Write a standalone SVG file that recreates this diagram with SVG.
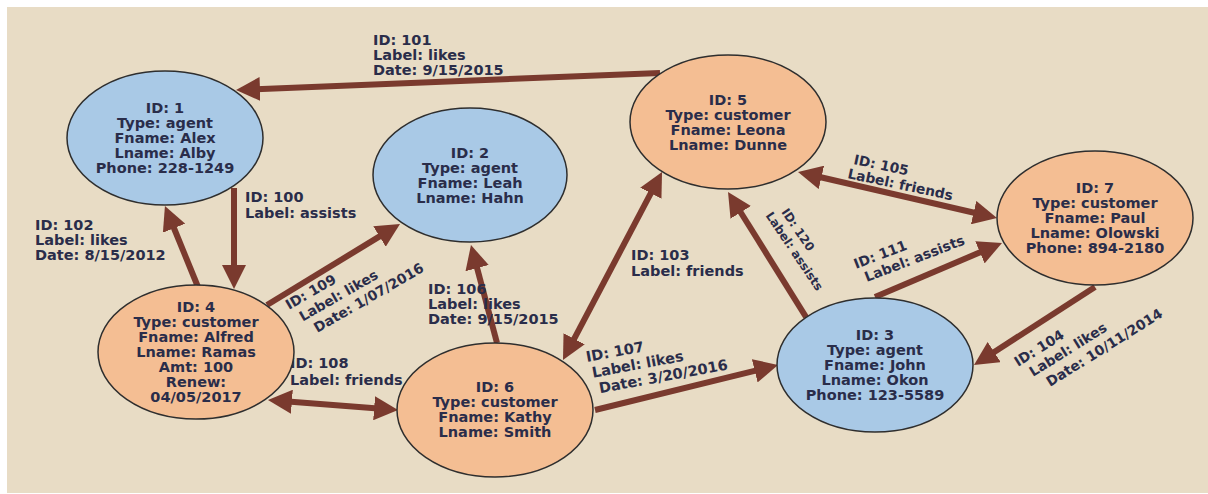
<svg xmlns="http://www.w3.org/2000/svg" width="1208" height="494" viewBox="0 0 1208 494">
<defs>
<style>
.bg{fill:#e8dcc5}
.edge{stroke:#7a3a2e;stroke-width:6;fill:none}
.agent{fill:#a9c9e6;stroke:#2e2e2e;stroke-width:1.5}
.cust{fill:#f4be93;stroke:#2e2e2e;stroke-width:1.5}
text{font-family:"DejaVu Sans","Liberation Sans",sans-serif;font-weight:bold;font-size:14.5px;fill:#2a2d4a}
.nt{text-anchor:middle}
.rt{font-size:13.8px}
.sm{font-size:12px}
</style>
<marker id="ah" viewBox="0 -12 24 24" markerWidth="24" markerHeight="24" markerUnits="userSpaceOnUse" refX="4" refY="0" orient="auto-start-reverse">
<path d="M0,-12 L24,0 L0,12 z" fill="#7a3a2e"/>
</marker>
</defs>
<rect class="bg" x="7" y="7" width="1201" height="486"/>
<g id="connectors">
<line id="e101" class="edge" x1="660" y1="73" x2="256" y2="89.2" marker-end="url(#ah)"/>
<line id="e100" class="edge" x1="234" y1="188" x2="234" y2="269" marker-end="url(#ah)"/>
<line id="e102" class="edge" x1="198" y1="287" x2="172.5" y2="224.5" marker-end="url(#ah)"/>
<line id="e109" class="edge" x1="267" y1="305" x2="382.9" y2="234.4" marker-end="url(#ah)"/>
<line id="e108" class="edge" x1="287.9" y1="401.5" x2="378.1" y2="408.5" marker-start="url(#ah)" marker-end="url(#ah)"/>
<line id="e106" class="edge" x1="497" y1="343" x2="476.1" y2="264.3" marker-end="url(#ah)"/>
<line id="e103" class="edge" x1="652.7" y1="189.7" x2="572.3" y2="342.3" marker-start="url(#ah)" marker-end="url(#ah)"/>
<line id="e107" class="edge" x1="595" y1="410" x2="758.6" y2="369.8" marker-end="url(#ah)"/>
<line id="e120" class="edge" x1="806" y1="317" x2="738.6" y2="209" marker-end="url(#ah)"/>
<line id="e105" class="edge" x1="817.5" y1="176.5" x2="977.5" y2="213.5" marker-start="url(#ah)" marker-end="url(#ah)"/>
<line id="e111" class="edge" x1="875" y1="297" x2="983.6" y2="250.8" marker-end="url(#ah)"/>
<line id="e104" class="edge" x1="1095" y1="287" x2="990.8" y2="354.2" marker-end="url(#ah)"/>
<g id="edge-labels">
<text><tspan x="373" y="45">ID: 101</tspan><tspan x="373" y="60">Label: likes</tspan><tspan x="373" y="75">Date: 9/15/2015</tspan></text>
<text><tspan x="245" y="202">ID: 100</tspan><tspan x="245" y="218">Label: assists</tspan></text>
<text><tspan x="35" y="230">ID: 102</tspan><tspan x="35" y="245">Label: likes</tspan><tspan x="35" y="260">Date: 8/15/2012</tspan></text>
<text class="rt" transform="translate(289,310) rotate(-30)"><tspan x="0" y="0">ID: 109</tspan><tspan x="6" y="17">Label: likes</tspan><tspan x="13" y="34">Date: 1/07/2016</tspan></text>
<text><tspan x="290" y="368">ID: 108</tspan><tspan x="290" y="385">Label: friends</tspan></text>
<text><tspan x="428" y="294">ID: 106</tspan><tspan x="428" y="309">Label: likes</tspan><tspan x="428" y="324">Date: 9/15/2015</tspan></text>
<text><tspan x="631" y="260">ID: 103</tspan><tspan x="631" y="276">Label: friends</tspan></text>
<text transform="translate(587,362) rotate(-10.5)"><tspan x="0" y="0">ID: 107</tspan><tspan x="3" y="16.5">Label: likes</tspan><tspan x="7" y="33">Date: 3/20/2016</tspan></text>
<text class="sm" transform="translate(781,212) rotate(56)"><tspan x="0" y="0">ID: 120</tspan><tspan x="-6" y="15">Label: assists</tspan></text>
<text class="rt" transform="translate(853,164) rotate(12)"><tspan x="0" y="0">ID: 105</tspan><tspan x="-3" y="15">Label: friends</tspan></text>
<text class="rt" transform="translate(856,269) rotate(-21)"><tspan x="0" y="0">ID: 111</tspan><tspan x="5.5" y="16">Label: assists</tspan></text>
<text class="rt" transform="translate(1018,367) rotate(-32)"><tspan x="0" y="0">ID: 104</tspan><tspan x="7.5" y="16.5">Label: likes</tspan><tspan x="16.5" y="34">Date: 10/11/2014</tspan></text>
</g>
</g>
<g id="node1">
<ellipse class="agent" cx="165" cy="138" rx="98" ry="67"/>
<text class="nt"><tspan x="165" y="113">ID: 1</tspan><tspan x="165" y="128">Type: agent</tspan><tspan x="165" y="143">Fname: Alex</tspan><tspan x="165" y="158">Lname: Alby</tspan><tspan x="165" y="173">Phone: 228-1249</tspan></text>
</g>
<g id="node2">
<ellipse class="agent" cx="470" cy="175" rx="97" ry="67"/>
<text class="nt"><tspan x="470" y="158">ID: 2</tspan><tspan x="470" y="173">Type: agent</tspan><tspan x="470" y="188">Fname: Leah</tspan><tspan x="470" y="203">Lname: Hahn</tspan></text>
</g>
<g id="node5">
<ellipse class="cust" cx="728" cy="122" rx="98" ry="67"/>
<text class="nt"><tspan x="728" y="105">ID: 5</tspan><tspan x="728" y="120">Type: customer</tspan><tspan x="728" y="135">Fname: Leona</tspan><tspan x="728" y="150">Lname: Dunne</tspan></text>
</g>
<g id="node7">
<ellipse class="cust" cx="1095" cy="218" rx="98" ry="67"/>
<text class="nt"><tspan x="1095" y="193">ID: 7</tspan><tspan x="1095" y="208">Type: customer</tspan><tspan x="1095" y="223">Fname: Paul</tspan><tspan x="1095" y="238">Lname: Olowski</tspan><tspan x="1095" y="253">Phone: 894-2180</tspan></text>
</g>
<g id="node4">
<ellipse class="cust" cx="196" cy="352" rx="98" ry="67"/>
<text class="nt"><tspan x="196" y="312">ID: 4</tspan><tspan x="196" y="327">Type: customer</tspan><tspan x="196" y="342">Fname: Alfred</tspan><tspan x="196" y="357">Lname: Ramas</tspan><tspan x="196" y="372">Amt: 100</tspan><tspan x="196" y="387">Renew:</tspan><tspan x="196" y="402">04/05/2017</tspan></text>
</g>
<g id="node6">
<ellipse class="cust" cx="495" cy="410" rx="98" ry="67"/>
<text class="nt"><tspan x="495" y="392">ID: 6</tspan><tspan x="495" y="407">Type: customer</tspan><tspan x="495" y="422">Fname: Kathy</tspan><tspan x="495" y="437">Lname: Smith</tspan></text>
</g>
<g id="node3">
<ellipse class="agent" cx="875" cy="365" rx="98" ry="67"/>
<text class="nt"><tspan x="875" y="340">ID: 3</tspan><tspan x="875" y="355">Type: agent</tspan><tspan x="875" y="370">Fname: John</tspan><tspan x="875" y="385">Lname: Okon</tspan><tspan x="875" y="400">Phone: 123-5589</tspan></text>
</g>
</svg>
